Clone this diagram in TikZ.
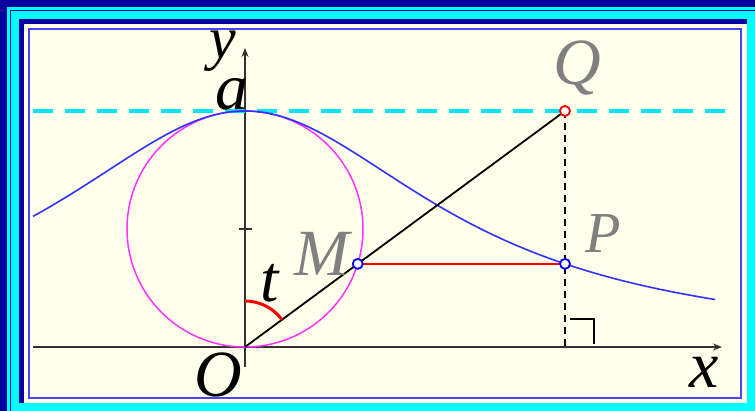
\documentclass[tikz,border=0pt]{standalone}
\usepackage{fontspec}
\setmainfont{Liberation Serif}
\usetikzlibrary{arrows.meta}

\definecolor{frameNavy}{RGB}{0,0,160}
\definecolor{frameCyan}{RGB}{0,255,255}
\definecolor{paper}{RGB}{255,255,235}
\definecolor{rimBlue}{RGB}{70,70,255}
\definecolor{curveBlue}{RGB}{50,50,255}
\definecolor{circMagenta}{RGB}{255,50,255}
\definecolor{dashCyan}{RGB}{0,230,240}
\definecolor{axisGray}{RGB}{50,50,50}
\definecolor{labelGray}{RGB}{128,128,128}

\tikzset{
    lbl/.style={inner sep=0pt, anchor=base, font=\fontsize{66}{66}\selectfont\itshape},
    grayLbl/.style={lbl, text=labelGray},
    axisLine/.style={axisGray, line width=1.5pt, -{Stealth[length=9pt,width=7pt]}},
    ptMark/.style={fill=white, line width=1.8pt}
}

\begin{document}
\begin{tikzpicture}[x=1pt, y=1pt]

% Geometry
\def\diam{236}
\def\Qx{320}
\def\tArcRad{46}

\pgfmathsetmacro{\halfDiam}{\diam/2}
\pgfmathsetmacro{\tanT}{\Qx/\diam}
\pgfmathsetmacro{\cosSq}{1/(1+\tanT*\tanT)}
\pgfmathsetmacro{\Mx}{\diam*\tanT*\cosSq}
\pgfmathsetmacro{\My}{\diam*\cosSq}
\pgfmathsetmacro{\lineAngle}{90-atan(\tanT)}

% Coordinates
\coordinate (O) at (0,0);
\coordinate (C) at (0,\halfDiam);
\coordinate (M) at (\Mx,\My);
\coordinate (P) at (\Qx,\My);
\coordinate (Q) at (\Qx,\diam);
\coordinate (F) at (\Qx,0);

\useasboundingbox (-245,-64) rectangle (510,347);

% Frame
\fill[frameNavy] (-245,-64) rectangle (510,347);
\fill[frameCyan] (-237.5,-64) rectangle (510,339.5);
\fill[frameNavy] (-235,-64) rectangle (510,337);
\fill[frameCyan] (-233.5,-64) rectangle (510,335.5);
\fill[frameNavy] (-226,-56) rectangle (502,328);
\fill[paper] (-221,-56) rectangle (502,323);
\draw[rimBlue, line width=2pt] (-216,-51) rectangle (496,318);

% Axes
\draw[axisLine] (-212,0) -- (477,0);
\draw[axisLine] (0,-20) -- (0,299);
\draw[axisGray, line width=1.5pt] (-6,\halfDiam) -- (7,\halfDiam);

% Line y = a
\draw[dashCyan, line width=3.4pt, dash pattern=on 20pt off 12pt]
    (-212,\diam) -- (480,\diam);

% Circle and curve
\draw[circMagenta, line width=1.5pt] (C) circle (\halfDiam pt);
\draw[curveBlue, line width=1.6pt]
    plot[domain=-212:470, samples=120, smooth] (\x, {\diam/(1+(\x/\diam)^2)});

% Construction
\draw[black, line width=1.6pt, dash pattern=on 7pt off 5pt] (Q) -- (F);
\draw[black, line width=1.8pt] (O) -- (Q);
\draw[red, line width=1.8pt] (M) -- (P);
\draw[black, line width=1.8pt] (\Qx+5,28) -- (\Qx+29,28) -- (\Qx+29,3);

% Angle t
\draw[red, line width=3pt]
    (0,\tArcRad) arc[start angle=90, end angle=\lineAngle, radius=\tArcRad pt];

% Points
\draw[ptMark, draw=blue] (M) circle (5pt);
\draw[ptMark, draw=blue] (P) circle (5pt);
\draw[ptMark, draw=red] (Q) circle (5pt);

% Labels
\node[lbl, font=\fontsize{60}{60}\selectfont\itshape] (ylbl) at (-22,288) {y};
\node[lbl] (albl) at (-13,237) {a};
\node[grayLbl] (Qlbl) at (332,262) {Q};
\node[grayLbl] (Mlbl) at (77,71) {M};
\node[grayLbl, font=\fontsize{58}{58}\selectfont\itshape] (Plbl) at (358,94) {P};
\node[lbl] (tlbl) at (25,45) {t};
\node[lbl] (Olbl) at (-27,-50) {O};
\node[lbl] (xlbl) at (459,-41) {x};

\end{tikzpicture}
\end{document}
